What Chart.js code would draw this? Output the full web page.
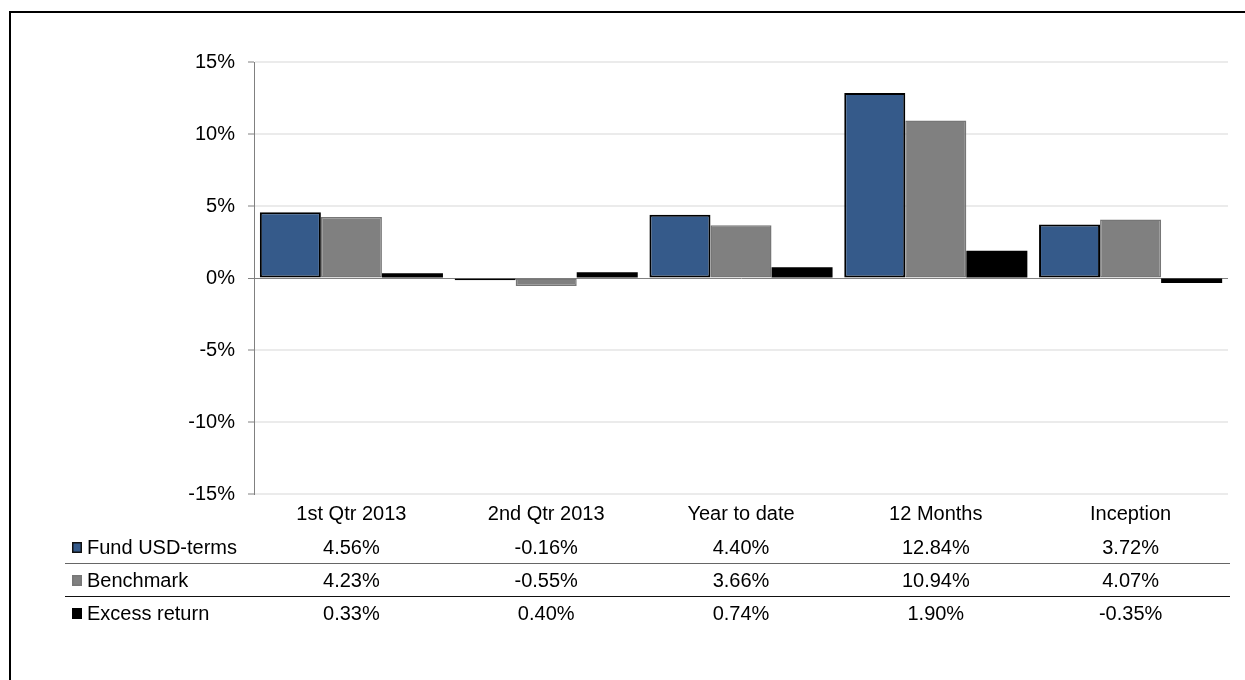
<!DOCTYPE html>
<html>
<head>
<meta charset="utf-8">
<script src="https://cdn.jsdelivr.net/npm/chart.js@4/dist/chart.umd.min.js"></script>
<style>
  html, body { margin: 0; padding: 0; background: #fff; }
  #wrap { width: 1245px; height: 680px; position: relative; }
</style>
</head>
<body>
<div id="wrap"><canvas id="chart" width="1245" height="680"></canvas></div>
<script>
const categories = ['1st Qtr 2013', '2nd Qtr 2013', 'Year to date', '12 Months', 'Inception'];
const seriesNames = ['Fund USD-terms', 'Benchmark', 'Excess return'];
const fundValues = [4.56, -0.16, 4.40, 12.84, 3.72];
const benchmarkValues = [4.23, -0.55, 3.66, 10.94, 4.07];
const excessValues = [0.33, 0.40, 0.74, 1.90, -0.35];
const yTicks = [-15, -10, -5, 0, 5, 10, 15];

const FONT = '"Liberation Sans", Arial, sans-serif';
const COLORS = {
    fund: '#355a8a',
    bench: '#808080',
    excess: '#000000'
};

// Draws the white background and the frame (top + left edges only are in view)
const framePlugin = {
    id: 'frame',
    beforeDraw(chart) {
        const ctx = chart.ctx;
        ctx.save();
        ctx.fillStyle = '#fff';
        ctx.fillRect(0, 0, chart.width, chart.height);
        ctx.fillStyle = '#000';
        ctx.fillRect(9, 11, chart.width, 2);
        ctx.fillRect(9, 11, 2, chart.height);
        ctx.restore();
    }
};

// Data table under the chart, columns follow the x scale
const tablePlugin = {
    id: 'dataTable',
    afterDraw(chart) {
        const ctx = chart.ctx;
        const x = chart.scales.x;
        const rows = [
            { name: seriesNames[0], values: fundValues, fill: COLORS.fund, stroke: '#111', y: 548 },
            { name: seriesNames[1], values: benchmarkValues, fill: COLORS.bench, stroke: '#777', y: 581 },
            { name: seriesNames[2], values: excessValues, fill: COLORS.excess, stroke: '#000', y: 614 }
        ];
        ctx.save();
        ctx.font = '20px ' + FONT;
        ctx.textBaseline = 'middle';

        // separators
        ctx.fillStyle = '#666';
        ctx.fillRect(65, 563, 1165, 1);
        ctx.fillStyle = '#111';
        ctx.fillRect(65, 596, 1165, 1);

        rows.forEach(r => {
            // legend key
            ctx.fillStyle = r.stroke;
            ctx.fillRect(72, r.y - 6, 10, 11);
            ctx.fillStyle = r.fill;
            ctx.fillRect(73.5, r.y - 4.5, 7, 8);

            ctx.fillStyle = '#000';
            ctx.textAlign = 'left';
            ctx.fillText(r.name, 87, r.y);

            ctx.textAlign = 'center';
            r.values.forEach((v, i) => {
                ctx.fillText(v.toFixed(2) + '%', x.getPixelForValue(i), r.y);
            });
        });
        ctx.restore();
    }
};

new Chart(document.getElementById('chart'), {
    type: 'bar',
    data: {
        labels: categories,
        datasets: [
            {
                label: seriesNames[0],
                data: fundValues,
                backgroundColor: COLORS.fund,
                borderColor: '#000',
                borderWidth: 2,
                borderSkipped: false
            },
            {
                label: seriesNames[1],
                data: benchmarkValues,
                backgroundColor: COLORS.bench,
                borderColor: '#767676',
                borderWidth: 1.5,
                borderSkipped: false
            },
            {
                label: seriesNames[2],
                data: excessValues,
                backgroundColor: COLORS.excess,
                borderWidth: 0
            }
        ]
    },
    options: {
        responsive: false,
        animation: false,
        events: [],
        layout: { padding: { top: 62, right: 17, bottom: 146, left: 0 } },
        plugins: {
            legend: { display: false },
            tooltip: { enabled: false }
        },
        datasets: {
            bar: { categoryPercentage: 0.94, barPercentage: 1.0 }
        },
        scales: {
            x: {
                grid: { display: false, drawTicks: false },
                border: { display: false },
                ticks: {
                    color: '#000',
                    font: { family: FONT, size: 20 },
                    padding: 8,
                    maxRotation: 0
                },
                afterFit(scale) { scale.height = 40; }
            },
            y: {
                min: -15,
                max: 15,
                afterBuildTicks(scale) {
                    scale.ticks = yTicks.map(v => ({ value: v }));
                },
                grid: {
                    color: c => (c.tick && c.tick.value === 0) ? '#808080' : '#ebebeb',
                    lineWidth: c => (c.tick && c.tick.value === 0) ? 1 : 2,
                    tickColor: '#808080',
                    tickWidth: 1,
                    tickLength: 6,
                    drawTicks: true
                },
                border: { display: true, color: '#808080', width: 1 },
                ticks: {
                    color: '#000',
                    font: { family: FONT, size: 20 },
                    padding: 13,
                    callback: v => v + '%'
                },
                afterFit(scale) { scale.width = 254; }
            }
        }
    },
    plugins: [framePlugin, tablePlugin]
});
</script>
</body>
</html>
